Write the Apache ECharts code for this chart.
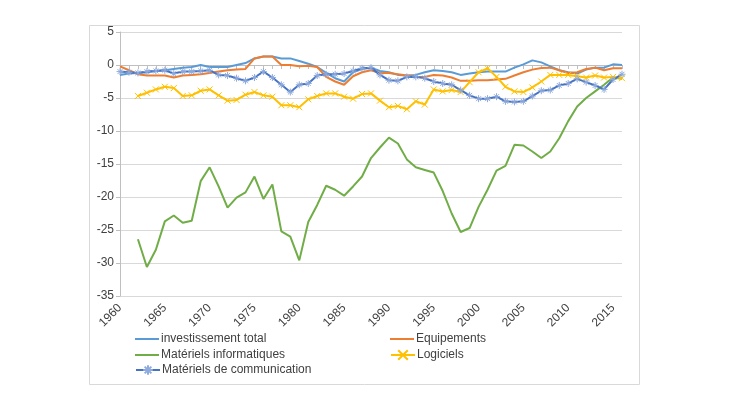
<!DOCTYPE html>
<html>
<head>
<meta charset="utf-8">
<style>
  html, body { margin: 0; padding: 0; background: #fff; }
  #chart { width: 730px; height: 410px; }
</style>
<script src="https://cdn.jsdelivr.net/npm/echarts@6/dist/echarts.min.js"></script>
</head>
<body>
<div id="chart"></div>
<script>
const years = [];
for (let y = 1960; y <= 2016; y++) years.push(String(y));

const seriesNames = [
  "investissement total",
  "Equipements",
  "Matériels informatiques",
  "Logiciels",
  "Matériels de communication",
];

const investTotal = [
  -1.5, -1.3, -1.2, -1.1, -0.9, -0.8, -0.6, -0.4, -0.3, 0.0,
  -0.3, -0.3, -0.3, 0.0, 0.3, 1.0, 1.3, 1.3, 1.0, 1.0,
  0.6, 0.2, -0.3, -1.2, -2.0, -2.5, -1.1, -0.6, -0.4, -0.9,
  -1.1, -1.5, -1.6, -1.5, -1.1, -0.8, -0.9, -1.1, -1.5, -1.3,
  -1.1, -1.0, -1.0, -1.0, -0.4, 0.1, 0.7, 0.4, -0.2, -0.8,
  -1.1, -1.3, -0.7, -0.4, -0.4, 0.1, 0.0,
];

const equipements = [
  -0.2, -0.8, -1.4, -1.6, -1.6, -1.6, -1.9, -1.6, -1.5, -1.4,
  -1.2, -1.0, -0.8, -0.7, -0.6, 1.0, 1.3, 1.3, 0.0, 0.0,
  -0.2, -0.1, -0.3, -1.8, -2.5, -3.0, -1.7, -1.1, -0.8, -1.2,
  -1.2, -1.4, -1.6, -1.8, -1.8, -1.5, -1.6, -1.9, -2.4, -2.4,
  -2.3, -2.3, -2.2, -2.1, -1.6, -1.1, -0.7, -0.45, -0.4, -0.8,
  -1.2, -1.1, -0.6, -0.4, -0.8, -0.5, -0.5,
];

const materielsInfo = [
  null, null, -26.4, -30.6, -28.0, -23.7, -22.8, -23.9, -23.6, -17.6,
  -15.5, -18.4, -21.6, -20.1, -19.3, -16.9, -20.3, -18.1, -25.2, -26.0,
  -29.6, -23.8, -21.2, -18.3, -18.9, -19.8, -18.4, -16.9, -14.1, -12.5,
  -11.0, -11.9, -14.3, -15.5, -15.9, -16.3, -19.1, -22.5, -25.3, -24.7,
  -21.5, -18.9, -16.0, -15.3, -12.1, -12.2, -13.1, -14.1, -13.1, -11.1,
  -8.5, -6.3, -5.0, -4.0, -3.0, -1.9, -2.1,
];

const logiciels = [
  null, null, -4.7, -4.2, -3.7, -3.3, -3.5, -4.7, -4.6, -3.9,
  -3.7, -4.6, -5.4, -5.3, -4.5, -4.1, -4.6, -4.8, -6.1, -6.1,
  -6.4, -5.2, -4.7, -4.3, -4.3, -4.8, -5.1, -4.4, -4.3, -5.4,
  -6.4, -6.2, -6.7, -5.5, -6.0, -3.7, -4.0, -3.8, -4.1, -2.6,
  -1.1, -0.5, -1.8, -3.3, -4.0, -4.1, -3.4, -2.5, -1.5, -1.5,
  -1.5, -1.7, -1.9, -1.6, -1.9, -1.8, -2.0,
];

const materielsComm = [
  -1.0, -1.1, -1.2, -1.0, -0.9, -0.8, -1.3, -1.0, -1.0, -0.9,
  -0.8, -1.5, -1.6, -2.0, -2.4, -1.9, -1.0, -1.9, -3.0, -4.1,
  -3.0, -2.8, -1.6, -1.4, -1.4, -1.3, -0.9, -0.5, -0.4, -1.5,
  -2.3, -2.4, -1.8, -1.8, -2.0, -2.5, -2.8, -3.0, -3.8, -4.6,
  -5.1, -5.1, -4.8, -5.5, -5.6, -5.5, -4.7, -3.9, -3.8, -3.1,
  -2.8, -2.1, -2.6, -3.1, -3.7, -2.2, -1.4,
];

const colors = ["#5B9BD5", "#ED7D31", "#70AD47", "#FFC000", "#4472C4"];
const font = "'Liberation Sans', Arial, sans-serif";

const crossMark = "path://M0,0L10,10M10,0L0,10";
const starMark = "path://M5,0L5,10M0,5L10,5M1.5,1.5L8.5,8.5M8.5,1.5L1.5,8.5";

function lineSeries(name, data, color, extra) {
  return Object.assign({
    name: name,
    type: "line",
    data: data,
    symbol: "none",
    connectNulls: false,
    lineStyle: { color: color, width: 2 },
    itemStyle: { color: color },
    emphasis: { disabled: true },
    z: 2,
  }, extra || {});
}

// one legend block per entry, laid out like the two Excel columns
// plain lines get a flat bar icon, marked lines keep line + marker
const legendPos = [
  { left: 135, top: 333, plain: true },
  { left: 390, top: 333, plain: true },
  { left: 135, top: 349, plain: true },
  { left: 390, top: 349 },
  { left: 135, top: 364 },
];
const legends = seriesNames.map((n, i) => {
  const p = legendPos[i];
  return {
    data: p.plain ? [{ name: n, icon: "rect" }] : [n],
    left: p.left,
    top: p.top,
    padding: 0,
    itemWidth: 24,
    itemHeight: p.plain ? 2 : 12,
    selectedMode: false,
    textStyle: { fontFamily: font, fontSize: 12, color: "#404040", padding: [0, 0, 0, -3] },
  };
});

const chart = echarts.init(document.getElementById("chart"), null, { renderer: "canvas" });

chart.setOption({
  animation: false,
  backgroundColor: "#fff",
  color: colors,
  graphic: [{
    type: "rect",
    shape: { x: 89.5, y: 25.5, width: 550, height: 359 },
    style: { fill: "none", stroke: "#D9D9D9", lineWidth: 1 },
    silent: true,
    z: -1,
  }],
  legend: legends,
  grid: { left: 120, right: 108, top: 32, bottom: 114 },
  xAxis: [
    {
      type: "category",
      data: years,
      boundaryGap: false,
      position: "bottom",
      axisLine: { show: false, onZero: false },
      axisTick: { show: false },
      splitLine: { show: false },
      axisLabel: {
        interval: 4,
        rotate: 45,
        margin: 10,
        fontFamily: font,
        fontSize: 12,
        color: "#404040",
      },
    },
    {
      type: "category",
      data: years,
      boundaryGap: false,
      position: "bottom",
      axisLine: { show: true, onZero: true, lineStyle: { color: "#BFBFBF", width: 1 } },
      axisTick: { show: true, interval: 0, length: 4, lineStyle: { color: "#BFBFBF" } },
      axisLabel: { show: false },
      splitLine: { show: false },
    },
  ],
  yAxis: {
    type: "value",
    min: -35,
    max: 5,
    interval: 5,
    axisLine: { show: true, lineStyle: { color: "#BFBFBF" } },
    axisTick: { show: true, length: 4, lineStyle: { color: "#BFBFBF" } },
    splitLine: { show: true, lineStyle: { color: "#D9D9D9", width: 1 } },
    axisLabel: { fontFamily: font, fontSize: 12, color: "#404040", margin: 6 },
  },
  series: [
    lineSeries(seriesNames[0], investTotal, colors[0]),
    lineSeries(seriesNames[1], equipements, colors[1]),
    lineSeries(seriesNames[2], materielsInfo, colors[2]),
    lineSeries(seriesNames[3], logiciels, colors[3], {
      symbol: crossMark,
      symbolSize: 6,
      showSymbol: true,
      showAllSymbol: true,
      itemStyle: { color: colors[3], borderColor: colors[3], borderWidth: 1 },
    }),
    lineSeries(seriesNames[4], materielsComm, colors[4], {
      symbol: starMark,
      symbolSize: 7,
      showSymbol: true,
      showAllSymbol: true,
      itemStyle: { color: "#8FAADC", borderColor: "#8FAADC", borderWidth: 1 },
    }),
  ],
});
</script>
</body>
</html>
